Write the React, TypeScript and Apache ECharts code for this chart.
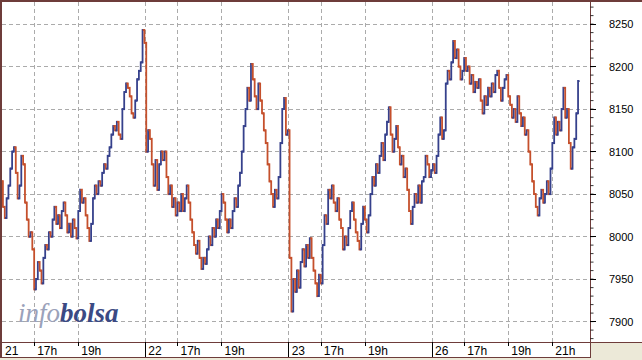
import React, { useEffect, useRef } from 'react';
import * as echarts from 'echarts';

// ---- data (5-minute bars, closing prices; each bar opens at the previous close) ----
const firstOpen = 8065;
const day21 = [
  8035, 8022, 8045, 8060, 8080, 8100, 8105, 8075, 8045, 8060,
  8095, 8085, 8040, 8020, 8000, 8005, 7985, 7938, 7950, 7970,
  7960, 7945, 7975, 7990, 7985, 8005, 8000, 8020, 8035, 8015,
  8025, 8010, 8030, 8040, 8025, 8005, 8015, 8000, 8020, 8010,
  7998, 8030, 8055, 8040, 8045, 8025, 8010, 7995, 8015, 8045,
  8060, 8050, 8065, 8060, 8075, 8085, 8080, 8095, 8105, 8120,
  8130, 8125, 8135, 8120, 8115, 8150, 8170, 8180, 8175, 8165,
  8145, 8140, 8160, 8185, 8195, 8205, 8243, 8228,
];
const day22 = [
  8100, 8125, 8115, 8085, 8060, 8090, 8055, 8085, 8100, 8090,
  8100, 8070, 8050, 8060, 8035, 8045, 8025, 8040, 8030, 8050,
  8030, 8045, 8060, 8040, 8020, 8005, 7990, 7980, 7995, 7975,
  7962, 7975, 7968, 7985, 8000, 7990, 8010, 8000, 8020, 8010,
  8030, 8050, 8040, 8020, 8005, 8020, 8010, 8030, 8045, 8035,
  8060, 8075, 8100, 8130, 8150, 8175, 8160, 8203, 8185, 8165,
  8150, 8180, 8160, 8145, 8125, 8110, 8085, 8065, 8050, 8035,
  8055, 8045, 8070, 8110, 8150, 8163, 8120, 8125,
];
const day23 = [
  7975, 7912, 7950, 7935, 7960, 7940, 7970, 7985, 7965, 7990,
  7975, 7998, 7975, 7960, 7945, 7930, 7955, 7945, 7990, 8025,
  8015, 8055, 8045, 8060, 8040, 8030, 8045, 8020, 8010, 7985,
  8000, 7990, 8010, 8030, 8040, 8020, 8005, 7995, 7985, 8015,
  8035, 8020, 8005, 8025, 8050, 8070, 8060, 8085, 8075, 8095,
  8110, 8090, 8120, 8135, 8152, 8120, 8100, 8115, 8130, 8105,
  8085, 8095, 8070, 8080, 8055, 8030, 8015, 8035, 8050, 8040,
  8060, 8040, 8065, 8070, 8095, 8085, 8070, 8078,
];
const day26 = [
  8085, 8075, 8095, 8120, 8140, 8115, 8125, 8180, 8195, 8185,
  8205, 8230, 8210, 8220, 8200, 8185, 8195, 8210, 8195, 8200,
  8180, 8190, 8170, 8182, 8175, 8185, 8160, 8145, 8165, 8155,
  8175, 8165, 8180, 8170, 8190, 8195, 8175, 8160, 8175, 8185,
  8190, 8165, 8155, 8140, 8150, 8135, 8165, 8145, 8130, 8140,
  8120, 8125, 8100, 8085, 8065, 8050, 8035, 8025, 8045, 8055,
  8040, 8050, 8065, 8050, 8080, 8110, 8140, 8120, 8135, 8125,
  8150, 8175, 8140, 8150, 8110, 8080, 8105, 8115, 8145, 8183,
];

// ---- axis ticks / labels ----
const xLabelPos = [-0.5, 17, 41, 77.5, 95, 119, 155.5, 173, 197, 233.5, 251, 275, 299];
const xLabelText = ['21', '17h', '19h', '22', '17h', '19h', '23', '17h', '19h', '26', '17h', '19h', '21h'];
const dayTickPos = [77.5, 155.5, 233.5]; // the first day starts on the left frame
const hourTickPos = [17, 41, 95, 119, 173, 197, 251, 275, 299];
const yLabels = [7900, 7950, 8000, 8050, 8100, 8150, 8200, 8250];
const yMinorTicks: number[] = [];
for (let v = 7880; v <= 8270; v += 10) yMinorTicks.push(v);

const X_MIN = -0.5;
const X_MAX = 319.5;
const Y_MIN = 7876;
const Y_MAX = 8276;
const SHIFT = 1000;

const BORDER = '#6e3c3a';
const GRID = '#ababab';
const RED = '#c5502c';
const BLUE = '#36418c';
const BEIGE = '#ece9d8';

export default function App() {
  const ref = useRef<HTMLDivElement>(null);

  useEffect(() => {
    document.body.style.margin = '0';
    if (!ref.current) return;
    const chart = echarts.init(ref.current, undefined, { renderer: 'svg' });

    const closes = [...day21, ...day22, ...day23, ...day26];
    const ohlc = closes.map((c, i) => {
      const o = i === 0 ? firstOpen : closes[i - 1];
      return [i, o, c, Math.min(o, c), Math.max(o, c)];
    });

    const labelFor = (v: number) => {
      const k = xLabelPos.findIndex((p) => Math.abs(p - v) < 0.01);
      return k >= 0 ? xLabelText[k] : '';
    };

    const gridRect = { left: 2, top: 2, right: 52, bottom: 18 };
    const dashed = { color: GRID, type: [4, 3], width: 1 };

    chart.setOption({
      animation: false,
      backgroundColor: '#ffffff',
      grid: [gridRect, gridRect],
      xAxis: [
        {
          type: 'value',
          gridIndex: 0,
          min: X_MIN,
          max: X_MAX,
          position: 'bottom',
          axisLine: { show: true, onZero: false, lineStyle: { color: BORDER, width: 1 } },
          axisTick: { show: true, customValues: hourTickPos, length: 4, lineStyle: { color: '#000' } },
          axisLabel: {
            show: true,
            customValues: xLabelPos,
            formatter: labelFor,
            align: 'left',
            padding: [0, 0, 0, 3],
            margin: 3,
            color: '#000',
            fontSize: 12,
            fontFamily: 'Liberation Sans',
          },
          splitLine: { show: true, lineStyle: dashed },
        },
        {
          type: 'value',
          gridIndex: 1,
          min: X_MIN + SHIFT,
          max: X_MAX + SHIFT,
          position: 'bottom',
          axisLine: { show: false, onZero: false },
          axisTick: {
            show: true,
            customValues: dayTickPos.map((v) => v + SHIFT),
            length: 16,
            lineStyle: { color: '#000' },
          },
          axisLabel: { show: false },
          splitLine: { show: true, lineStyle: dashed },
        },
      ],
      yAxis: [
        {
          type: 'value',
          gridIndex: 0,
          min: Y_MIN,
          max: Y_MAX,
          position: 'right',
          axisLine: { show: true, onZero: false, lineStyle: { color: BORDER, width: 1 } },
          axisTick: { show: true, customValues: yLabels, length: 6, lineStyle: { color: '#000' } },
          axisLabel: {
            show: true,
            customValues: yLabels,
            formatter: (v: number) => String(v),
            margin: 19,
            color: '#000',
            fontSize: 11,
            fontFamily: 'Liberation Sans',
          },
          splitLine: { show: true, lineStyle: dashed },
        },
        {
          type: 'value',
          gridIndex: 1,
          min: Y_MIN,
          max: Y_MAX,
          position: 'right',
          show: false,
        },
      ],
      series: [
        {
          type: 'custom',
          xAxisIndex: 0,
          yAxisIndex: 0,
          silent: true,
          clip: true,
          z: 5,
          data: ohlc,
          renderItem: (params: any, api: any) => {
            const idx = api.value(0);
            const o = api.value(1);
            const c = api.value(2);
            const l = api.value(3);
            const h = api.value(4);
            const pO = api.coord([idx, o]);
            const pC = api.coord([idx, c]);
            const pL = api.coord([idx, l]);
            const pH = api.coord([idx, h]);
            const px = pO[0];
            const color = c >= o ? BLUE : RED;
            const st = { stroke: color, lineWidth: 1.8 };
            return {
              type: 'group',
              children: [
                { type: 'line', shape: { x1: px, y1: pL[1] + 1, x2: px, y2: pH[1] - 1 }, style: st },
                { type: 'line', shape: { x1: px - 1.6, y1: pO[1], x2: px, y2: pO[1] }, style: st },
                { type: 'line', shape: { x1: px, y1: pC[1], x2: px + 1.6, y2: pC[1] }, style: st },
              ],
            };
          },
        },
        {
          // minor ticks of the right-hand price scale
          type: 'scatter',
          xAxisIndex: 0,
          yAxisIndex: 0,
          silent: true,
          clip: false,
          z: 6,
          symbol: 'rect',
          symbolSize: [3, 1],
          symbolOffset: [2, 0],
          itemStyle: { color: '#000' },
          data: yMinorTicks.map((v) => [X_MAX, v]),
        },
      ],
      graphic: [
        {
          type: 'text',
          x: 18,
          y: 313,
          z: 1,
          silent: true,
          style: {
            text: '{a|info}{b|bolsa}',
            verticalAlign: 'middle',
            rich: {
              a: { fontFamily: 'Liberation Serif', fontStyle: 'italic', fontSize: 27, fill: '#9ba2ba' },
              b: { fontFamily: 'Liberation Serif', fontStyle: 'italic', fontWeight: 'bold', fontSize: 27, fill: '#3b4a84' },
            },
          },
        },
        { type: 'rect', z: 100, silent: true, shape: { x: 0, y: 0, width: 2, height: 358 }, style: { fill: BORDER } },
        { type: 'rect', z: 100, silent: true, shape: { x: 0, y: 0, width: 642, height: 2 }, style: { fill: BORDER } },
        { type: 'rect', z: 100, silent: true, shape: { x: 591, y: 343, width: 51, height: 17 }, style: { fill: BEIGE } },
        { type: 'rect', z: 100, silent: true, shape: { x: 0, y: 358, width: 642, height: 2 }, style: { fill: BEIGE } },
        { type: 'line', z: 100, silent: true, shape: { x1: 0, y1: 357.5, x2: 591, y2: 357.5 }, style: { stroke: BORDER, lineWidth: 1 } },
        { type: 'line', z: 100, silent: true, shape: { x1: 590.5, y1: 342, x2: 590.5, y2: 358 }, style: { stroke: BORDER, lineWidth: 1 } },
        { type: 'line', z: 100, silent: true, shape: { x1: 590, y1: 342.5, x2: 642, y2: 342.5 }, style: { stroke: BORDER, lineWidth: 1 } },
      ],
    });

    return () => chart.dispose();
  }, []);

  return (
    <div
      ref={ref}
      style={{ position: 'absolute', left: 0, top: 0, width: 642, height: 360 }}
    />
  );
}
